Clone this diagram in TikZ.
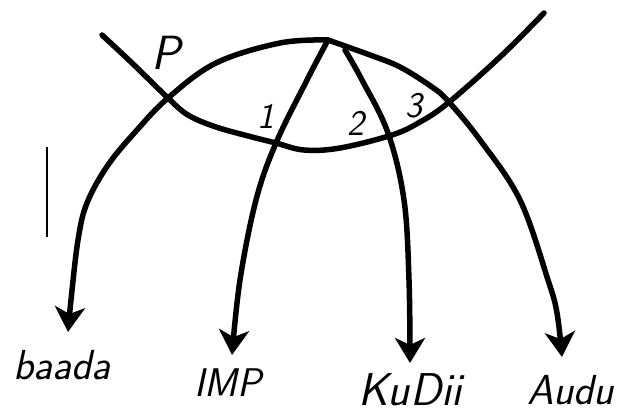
\documentclass[tikz,border=0pt]{standalone}
\usetikzlibrary{arrows.meta}
\begin{document}
\begin{tikzpicture}[x=1pt,y=-1pt,
  stroke/.style={line width=5.5pt, line cap=round, line join=round},
  arr/.style={stroke, -{Stealth[length=25pt,width=30pt,inset=7pt]}},
  lbl/.style={font=\fontsize{40}{40}\selectfont\sffamily\itshape, inner sep=0pt, anchor=base},
  num/.style={font=\fontsize{36}{36}\selectfont\sffamily\itshape, inner sep=0pt}]
\useasboundingbox (0,0) rectangle (620,414);
% key points
\coordinate (apex) at (328,40);
\coordinate (b2) at (345,50);
\coordinate (sL) at (102,35);
\coordinate (sR) at (544,13);
\coordinate (tb) at (68,332);
\coordinate (ti) at (232,355);
\coordinate (tk) at (410,363);
\coordinate (ta) at (562,357);
\coordinate (barT) at (47,147);
\coordinate (barB) at (47,237);
% labels
\node[lbl, font=\fontsize{42}{42}\selectfont\sffamily\itshape] (baada) at (62,379) {baada};
\node[lbl] (imp) at (228,396) {IMP};
\node[lbl, font=\fontsize{46}{46}\selectfont\sffamily\itshape] (kudii) at (410,405) {KuDii};
\node[lbl, font=\fontsize{42}{42}\selectfont\sffamily\itshape] (audu) at (571,404) {Audu};
\node[num, font=\fontsize{48}{48}\selectfont\sffamily\itshape] (p) at (166,53) {P};
\node[num] (n1) at (266,116) {1};
\node[num] (n2) at (356,123) {2};
\node[num] (n3) at (414,106) {3};
% smile curve
\draw[stroke] plot[smooth, tension=0.6] coordinates {(sL) (132,63) (168,98) (188,115) (216,127) (252,137) (276,143) (304,150) (340,148) (392,135) (420,122) (448,103) (500,57) (sR)};
% dome and arrows
\draw[arr] plot[smooth, tension=0.6] coordinates {(apex) (280,43) (216,63) (168,98) (137,130) (108,165) (87,203) (78,240) (71,300) (tb)};
\draw[arr] plot[smooth, tension=0.6] coordinates {(apex) (370,55) (400,67) (432,87) (448,101) (480,140) (520,200) (548,280) (557,313) (ta)};
\draw[arr] plot[smooth, tension=0.6] coordinates {(apex) (307,80) (276,143) (256,200) (240,280) (ti)};
\draw[arr] plot[smooth, tension=0.6] coordinates {(b2) (362,80) (388,133) (404,200) (409,280) (tk)};
% small vertical bar
\draw[line width=1.8pt] (barT) -- (barB);
\end{tikzpicture}
\end{document}
